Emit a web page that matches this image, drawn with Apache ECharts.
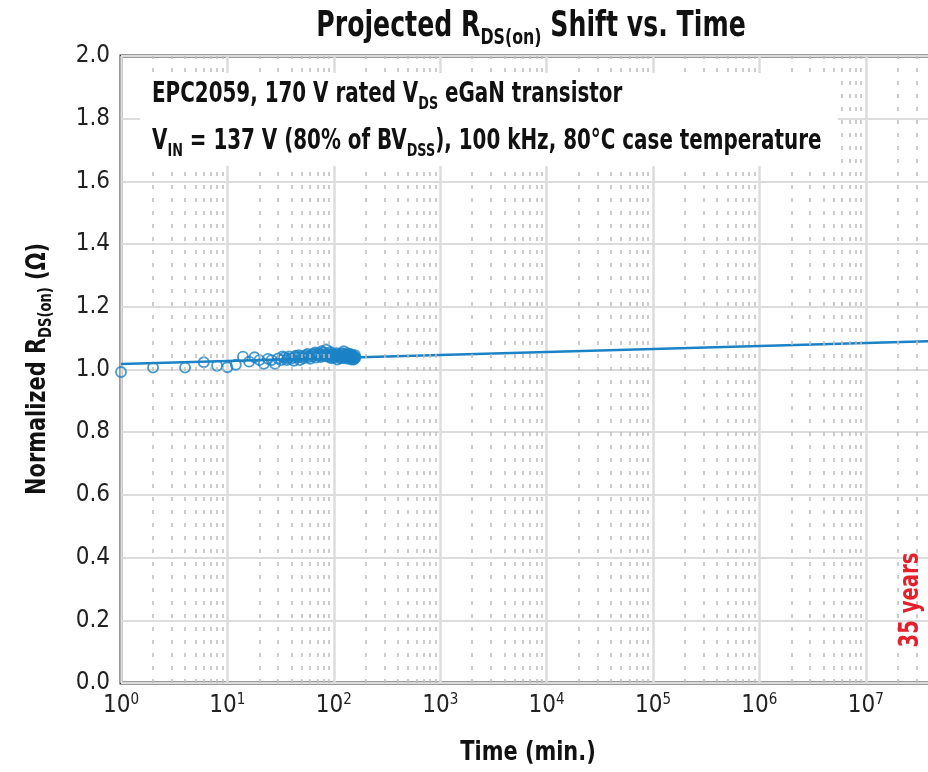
<!DOCTYPE html>
<html>
<head>
<meta charset="utf-8">
<script src="https://cdn.jsdelivr.net/npm/echarts@6/dist/echarts.min.js"></script>
<style>html,body{margin:0;padding:0;background:#fff}#c{width:928px;height:772px}</style>
</head>
<body>
<div id="c"></div>
<script>
// ---- data ----
const timeMin = [1, 2, 4, 6, 8, 10, 12, 14, 16, 18, 20, 22, 24, 26, 28, 30, 32, 34, 36, 38, 40, 42, 44, 46, 48, 50, 52, 55, 58, 60, 62, 65, 68, 70, 72, 75, 78, 80, 82, 85, 88, 90, 92, 95, 98, 100, 104, 108, 112, 116, 120, 124, 128, 132, 136, 140, 144, 148, 152, 156, 160,
  33, 37, 43, 47, 53, 57, 63, 67, 73, 77, 83, 87, 93, 97, 102, 106, 110, 114, 118, 122, 126, 130, 134, 138, 142, 146, 150, 154, 158, 125, 135, 145, 155];
const rdsNorm = [0.992, 1.006, 1.006, 1.023, 1.012, 1.007, 1.015, 1.041, 1.025, 1.039, 1.030, 1.018, 1.034, 1.030, 1.018, 1.035, 1.030, 1.038, 1.030, 1.042, 1.035, 1.028, 1.044, 1.038, 1.030, 1.042, 1.036, 1.046, 1.040, 1.034, 1.048, 1.050, 1.038, 1.045, 1.052, 1.040, 1.046, 1.055, 1.042, 1.064, 1.050, 1.040, 1.048, 1.036, 1.044, 1.038, 1.046, 1.032, 1.042, 1.036, 1.052, 1.058, 1.040, 1.046, 1.034, 1.050, 1.040, 1.032, 1.044, 1.036, 1.038,
  1.042, 1.036, 1.040, 1.046, 1.042, 1.050, 1.042, 1.054, 1.046, 1.058, 1.050, 1.044, 1.056, 1.050, 1.042, 1.052, 1.048, 1.038, 1.044, 1.050, 1.046, 1.042, 1.052, 1.046, 1.036, 1.048, 1.042, 1.032, 1.046, 1.036, 1.040, 1.044, 1.040];
const fitTime = [1, 4.57e7];
const fitValue = [1.0175, 1.091];
const minorTimes = [2,3,4,5,6,7,8,9,20,30,40,50,60,70,80,90,200,300,400,500,600,700,800,900,
  2e3,3e3,4e3,5e3,6e3,7e3,8e3,9e3,2e4,3e4,4e4,5e4,6e4,7e4,8e4,9e4,2e5,3e5,4e5,5e5,6e5,7e5,8e5,9e5,
  2e6,3e6,4e6,5e6,6e6,7e6,8e6,9e6,2e7,3e7,4e7];

const FONT = '"Liberation Sans Narrow", "DejaVu Sans Condensed", "Roboto Condensed", "Open Sans", sans-serif';
const BLUE = '#1b82c5';
const subRich = (fs, lh) => ({ sub: { fontFamily: FONT, fontWeight: 'bold', fontSize: fs, fill: '#111', color: '#111', verticalAlign: 'bottom', lineHeight: lh } });

const chart = echarts.init(document.getElementById('c'), null, {renderer: 'canvas'});
chart.setOption({
  animation: false,
  backgroundColor: '#fff',
  grid: { left: 121, top: 56, width: 815, height: 627, show: true, borderColor: '#383838', borderWidth: 3, backgroundColor: 'transparent', outerBoundsMode: 'none', containLabel: false },
  xAxis: {
    type: 'log', min: 1, max: 4.57e7, logBase: 10, splitNumber: 8,
    axisLine: { show: false }, axisTick: { show: false },
    axisLabel: {
      margin: 10, fontFamily: FONT, fontSize: 24, color: '#222',
      formatter: function (v) {
        const e = Math.log10(v); const r = Math.round(e);
        if (Math.abs(e - r) > 1e-6) return '';
        return '10{sup|' + r + '}';
      },
      rich: { sup: { fontFamily: FONT, fontSize: 15, color: '#222', verticalAlign: 'top', lineHeight: 26 } }
    },
    splitLine: { show: true, lineStyle: { color: '#dcdcdc', width: 2.5 } }
  },
  yAxis: {
    type: 'value', min: 0, max: 2, interval: 0.2,
    axisLine: { show: false }, axisTick: { show: false },
    axisLabel: {
      margin: 11, fontFamily: FONT, fontSize: 24, color: '#222',
      formatter: function (v) { return v.toFixed(1); }
    },
    splitLine: { show: true, lineStyle: { color: '#dcdcdc', width: 2 } }
  },
  series: [
    {
      type: 'line', data: [], silent: true, z: 1,
      markLine: {
        silent: true, symbol: 'none', label: { show: false },
        lineStyle: { color: '#bdbdbd', width: 1.5, type: [4, 9] },
        data: minorTimes.map(t => ({ xAxis: t }))
      }
    },
    {
      type: 'line', showSymbol: false, silent: true,
      data: fitTime.map((t, i) => [t, fitValue[i]]),
      lineStyle: { color: BLUE, width: 2.5 }, z: 3
    },
    {
      type: 'scatter', symbol: 'circle', symbolSize: 10, silent: true,
      data: timeMin.map((t, i) => [t, rdsNorm[i]]),
      itemStyle: { color: 'rgba(255,255,255,0)', borderColor: BLUE, borderWidth: 1.9 }, z: 4
    }
  ],
  graphic: [
    {
      type: 'rect', z: 20, silent: true,
      shape: { x: 140, y: 73, width: 698, height: 93 },
      style: { fill: '#fff' }
    },
    {
      type: 'text', x: 531, y: 27, z: 21, silent: true, scaleX: 0.8,
      style: {
        text: 'Projected R{sub|DS(on)} Shift vs. Time',
        fontFamily: FONT, fontWeight: 'bold', fontSize: 35, fill: '#111', align: 'center', verticalAlign: 'middle', lineHeight: 44,
        rich: subRich(22, 44)
      }
    },
    {
      type: 'text', x: 152, y: 95, z: 21, silent: true, scaleX: 0.79,
      style: {
        text: 'EPC2059, 170 V rated V{sub|DS} eGaN transistor',
        fontFamily: FONT, fontWeight: 'bold', fontSize: 28, fill: '#111', verticalAlign: 'middle', lineHeight: 36,
        rich: subRich(18, 36)
      }
    },
    {
      type: 'text', x: 152, y: 142, z: 21, silent: true, scaleX: 0.79,
      style: {
        text: 'V{sub|IN} = 137 V (80% of BV{sub|DSS}), 100 kHz, 80°C case temperature',
        fontFamily: FONT, fontWeight: 'bold', fontSize: 28, fill: '#111', verticalAlign: 'middle', lineHeight: 36,
        rich: subRich(18, 36)
      }
    },
    {
      type: 'text', x: 38, y: 369, z: 21, silent: true, rotation: Math.PI / 2, scaleX: 0.86,
      style: {
        text: 'Normalized R{sub|DS(on)} (Ω)',
        fontFamily: FONT, fontWeight: 'bold', fontSize: 27, fill: '#111', align: 'center', verticalAlign: 'middle', lineHeight: 34,
        rich: subRich(17, 34)
      }
    },
    {
      type: 'text', x: 528, y: 753, z: 21, silent: true, scaleX: 0.86,
      style: {
        text: 'Time (min.)', fontFamily: FONT, fontWeight: 'bold', fontSize: 27, fill: '#111',
        align: 'center', verticalAlign: 'middle'
      }
    },
    {
      type: 'text', x: 911, y: 600, z: 21, rotation: Math.PI / 2, scaleX: 0.84, silent: true,
      style: {
        text: '35 years', fontFamily: FONT, fontWeight: 'bold', fontSize: 26, fill: '#e3202b',
        align: 'center', verticalAlign: 'middle'
      }
    }
  ]
});
</script>
</body>
</html>
